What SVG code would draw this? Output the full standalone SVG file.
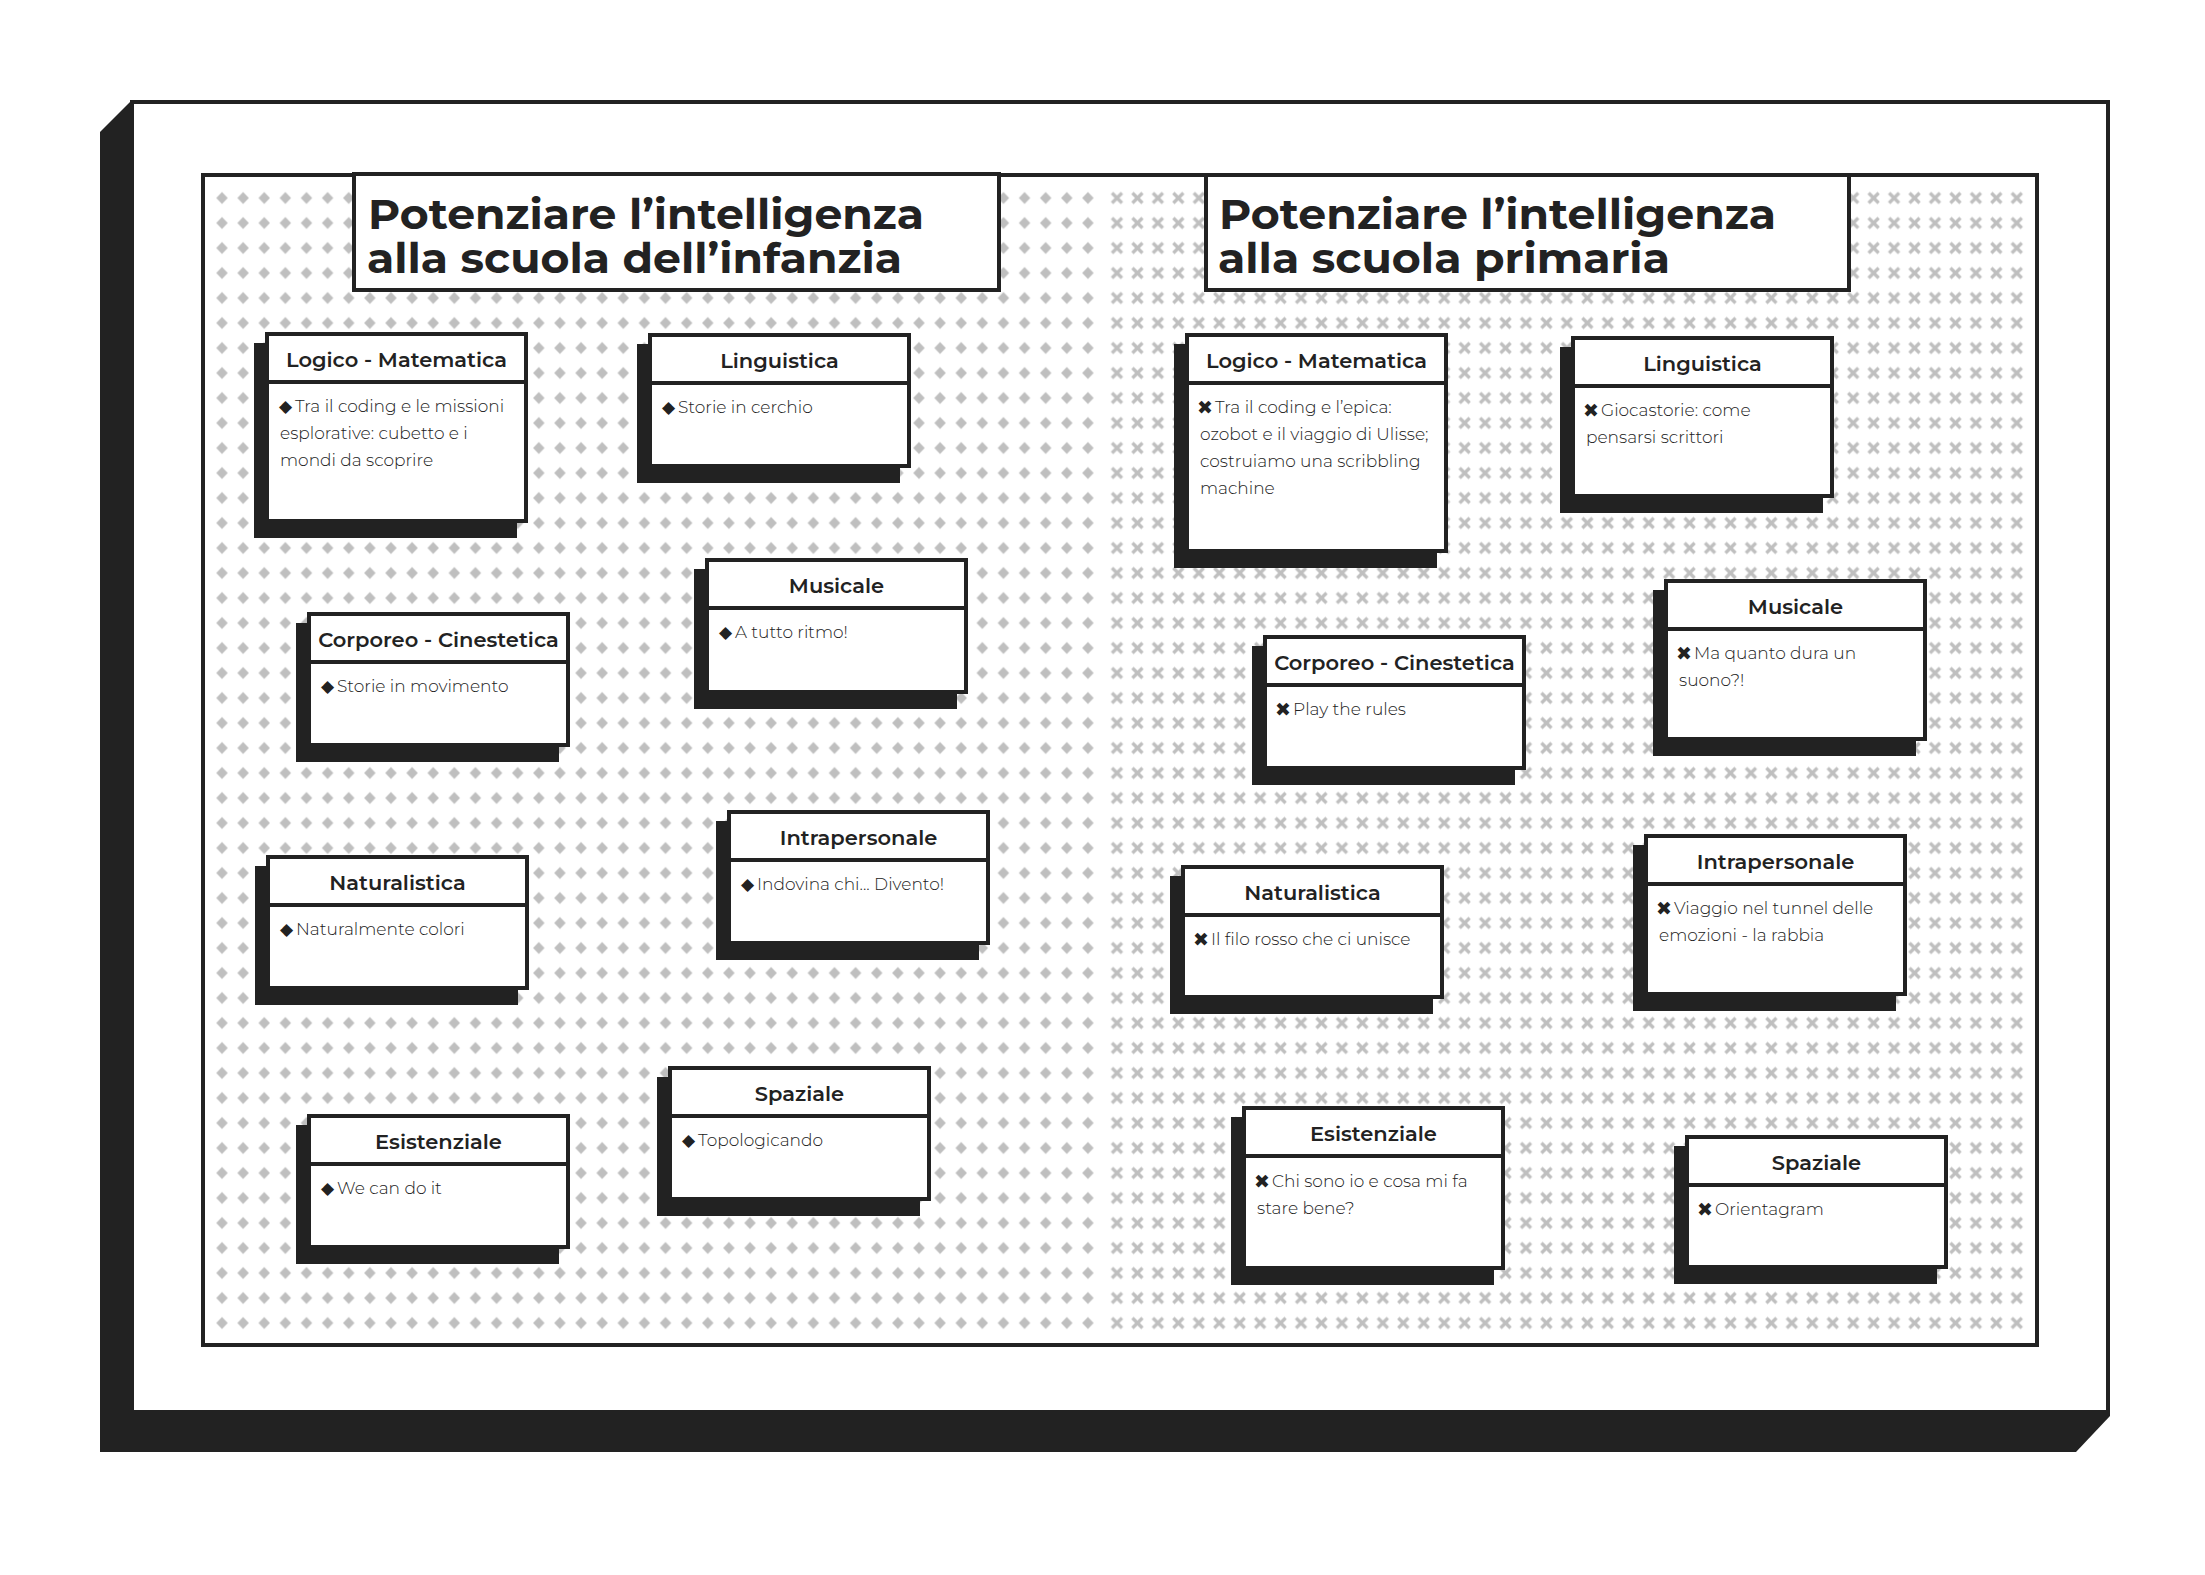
<svg xmlns="http://www.w3.org/2000/svg" width="2205" height="1575" viewBox="0 0 2205 1575">
<style>
.ink{fill:#222}
.frame{fill:#fff;stroke:#222;stroke-width:4}
.shadow{fill:#222}
.box{fill:#fff;stroke:#222;stroke-width:4}
.sep{stroke:#222;stroke-width:4}
.title{font-family:Montserrat,Inter,'Noto Sans',sans-serif;font-weight:700;font-size:42px;fill:#222}
.hdr{font-family:Montserrat,Inter,'Noto Sans',sans-serif;font-weight:600;font-size:21px;fill:#222;text-anchor:middle}
.body{font-family:Montserrat,'Open Sans','Noto Sans',sans-serif;font-weight:300;font-size:17px;fill:#222}
.bul{font-family:'DejaVu Sans',sans-serif;font-size:17px;fill:#222}
.bx{font-family:'DejaVu Sans',sans-serif;font-size:19px;fill:#222}
.dot{fill:#bfbfbf}
.x{stroke:#bfbfbf;stroke-width:3.3;fill:none}
</style>
<defs>
<pattern id="diam" patternUnits="userSpaceOnUse" x="211.44" y="185.5" width="21.12" height="25">
<polygon class="dot" points="10.56,6.5 16.3,12.5 10.56,18.5 4.8,12.5"/>
</pattern>
<pattern id="cross" patternUnits="userSpaceOnUse" x="1106.8" y="185.5" width="20.45" height="25">
<path class="x" d="M5.2,7.5 L15.2,17.5 M15.2,7.5 L5.2,17.5"/>
</pattern>
</defs>

<g id="frame">
<polygon class="ink" points="132,100 100,132 100,1452 2076,1452 2110,1416 2110,100"/>
<rect class="frame" x="132" y="102" width="1976" height="1310"/>
<rect class="frame" x="203" y="175" width="1834" height="1170"/>
<rect x="211.44" y="185.5" width="887.04" height="1150" fill="url(#diam)"/>
<rect x="1106.8" y="185.5" width="920.25" height="1150" fill="url(#cross)"/>
</g>

<g id="title-infanzia">
<rect class="box" x="354" y="174" width="645" height="116"/>
<text class="title" x="368" y="229" textLength="556" lengthAdjust="spacingAndGlyphs">Potenziare l’intelligenza</text>
<text class="title" x="367" y="273" textLength="535" lengthAdjust="spacingAndGlyphs">alla scuola dell’infanzia</text>
</g>
<g id="title-primaria">
<rect class="box" x="1206" y="175" width="643" height="115"/>
<text class="title" x="1219" y="229" textLength="557" lengthAdjust="spacingAndGlyphs">Potenziare l’intelligenza</text>
<text class="title" x="1218" y="273" textLength="452" lengthAdjust="spacingAndGlyphs">alla scuola primaria</text>
</g>

<g id="connectors"></g>

<!-- Scuola dell'infanzia -->
<g id="inf-logico">
<rect class="shadow" x="254" y="343" width="263" height="195"/>
<rect class="box" x="267" y="334" width="259" height="187"/>
<line class="sep" x1="267" y1="382" x2="526" y2="382"/>
<text class="hdr" x="396.5" y="367">Logico - Matematica</text>
<text class="bul" x="279" y="412">◆</text>
<text class="body" x="295" y="412">Tra il coding e le missioni</text>
<text class="body" x="280" y="439">esplorative: cubetto e i</text>
<text class="body" x="280" y="466">mondi da scoprire</text>
</g>
<g id="inf-linguistica">
<rect class="shadow" x="637" y="344" width="263" height="139"/>
<rect class="box" x="650" y="335" width="259" height="131"/>
<line class="sep" x1="650" y1="383" x2="909" y2="383"/>
<text class="hdr" x="779.5" y="368">Linguistica</text>
<text class="bul" x="662" y="413">◆</text>
<text class="body" x="678" y="413">Storie in cerchio</text>
</g>
<g id="inf-musicale">
<rect class="shadow" x="694" y="569" width="263" height="140"/>
<rect class="box" x="707" y="560" width="259" height="132"/>
<line class="sep" x1="707" y1="608" x2="966" y2="608"/>
<text class="hdr" x="836.5" y="593">Musicale</text>
<text class="bul" x="719" y="638">◆</text>
<text class="body" x="735" y="638">A tutto ritmo!</text>
</g>
<g id="inf-corporeo">
<rect class="shadow" x="296" y="623" width="263" height="139"/>
<rect class="box" x="309" y="614" width="259" height="131"/>
<line class="sep" x1="309" y1="662" x2="568" y2="662"/>
<text class="hdr" x="438.5" y="647">Corporeo - Cinestetica</text>
<text class="bul" x="321" y="692">◆</text>
<text class="body" x="337" y="692">Storie in movimento</text>
</g>
<g id="inf-intrapersonale">
<rect class="shadow" x="716" y="821" width="263" height="139"/>
<rect class="box" x="729" y="812" width="259" height="131"/>
<line class="sep" x1="729" y1="860" x2="988" y2="860"/>
<text class="hdr" x="858.5" y="845">Intrapersonale</text>
<text class="bul" x="741" y="890">◆</text>
<text class="body" x="757" y="890">Indovina chi... Divento!</text>
</g>
<g id="inf-naturalistica">
<rect class="shadow" x="255" y="866" width="263" height="139"/>
<rect class="box" x="268" y="857" width="259" height="131"/>
<line class="sep" x1="268" y1="905" x2="527" y2="905"/>
<text class="hdr" x="397.5" y="890">Naturalistica</text>
<text class="bul" x="280" y="935">◆</text>
<text class="body" x="296" y="935">Naturalmente colori</text>
</g>
<g id="inf-spaziale">
<rect class="shadow" x="657" y="1077" width="263" height="139"/>
<rect class="box" x="670" y="1068" width="259" height="131"/>
<line class="sep" x1="670" y1="1116" x2="929" y2="1116"/>
<text class="hdr" x="799.5" y="1101">Spaziale</text>
<text class="bul" x="682" y="1146">◆</text>
<text class="body" x="698" y="1146">Topologicando</text>
</g>
<g id="inf-esistenziale">
<rect class="shadow" x="296" y="1125" width="263" height="139"/>
<rect class="box" x="309" y="1116" width="259" height="131"/>
<line class="sep" x1="309" y1="1164" x2="568" y2="1164"/>
<text class="hdr" x="438.5" y="1149">Esistenziale</text>
<text class="bul" x="321" y="1194">◆</text>
<text class="body" x="337" y="1194">We can do it</text>
</g>

<!-- Scuola primaria -->
<g id="pri-logico">
<rect class="shadow" x="1174" y="344" width="263" height="224"/>
<rect class="box" x="1187" y="335" width="259" height="216"/>
<line class="sep" x1="1187" y1="383" x2="1446" y2="383"/>
<text class="hdr" x="1316.5" y="368">Logico - Matematica</text>
<text class="bx" x="1197" y="414">✖</text>
<text class="body" x="1215" y="413">Tra il coding e l’epica:</text>
<text class="body" x="1200" y="440">ozobot e il viaggio di Ulisse;</text>
<text class="body" x="1200" y="467">costruiamo una scribbling</text>
<text class="body" x="1200" y="494">machine</text>
</g>
<g id="pri-linguistica">
<rect class="shadow" x="1560" y="347" width="263" height="166"/>
<rect class="box" x="1573" y="338" width="259" height="158"/>
<line class="sep" x1="1573" y1="386" x2="1832" y2="386"/>
<text class="hdr" x="1702.5" y="371">Linguistica</text>
<text class="bx" x="1583" y="417">✖</text>
<text class="body" x="1601" y="416">Giocastorie: come</text>
<text class="body" x="1586" y="443">pensarsi scrittori</text>
</g>
<g id="pri-musicale">
<rect class="shadow" x="1653" y="590" width="263" height="166"/>
<rect class="box" x="1666" y="581" width="259" height="158"/>
<line class="sep" x1="1666" y1="629" x2="1925" y2="629"/>
<text class="hdr" x="1795.5" y="614">Musicale</text>
<text class="bx" x="1676" y="660">✖</text>
<text class="body" x="1694" y="659">Ma quanto dura un</text>
<text class="body" x="1679" y="686">suono?!</text>
</g>
<g id="pri-corporeo">
<rect class="shadow" x="1252" y="646" width="263" height="139"/>
<rect class="box" x="1265" y="637" width="259" height="131"/>
<line class="sep" x1="1265" y1="685" x2="1524" y2="685"/>
<text class="hdr" x="1394.5" y="670">Corporeo - Cinestetica</text>
<text class="bx" x="1275" y="716">✖</text>
<text class="body" x="1293" y="715">Play the rules</text>
</g>
<g id="pri-intrapersonale">
<rect class="shadow" x="1633" y="845" width="263" height="166"/>
<rect class="box" x="1646" y="836" width="259" height="158"/>
<line class="sep" x1="1646" y1="884" x2="1905" y2="884"/>
<text class="hdr" x="1775.5" y="869">Intrapersonale</text>
<text class="bx" x="1656" y="915">✖</text>
<text class="body" x="1674" y="914">Viaggio nel tunnel delle</text>
<text class="body" x="1659" y="941">emozioni - la rabbia</text>
</g>
<g id="pri-naturalistica">
<rect class="shadow" x="1170" y="876" width="263" height="138"/>
<rect class="box" x="1183" y="867" width="259" height="130"/>
<line class="sep" x1="1183" y1="915" x2="1442" y2="915"/>
<text class="hdr" x="1312.5" y="900">Naturalistica</text>
<text class="bx" x="1193" y="946">✖</text>
<text class="body" x="1211" y="945">Il filo rosso che ci unisce</text>
</g>
<g id="pri-esistenziale">
<rect class="shadow" x="1231" y="1117" width="263" height="168"/>
<rect class="box" x="1244" y="1108" width="259" height="160"/>
<line class="sep" x1="1244" y1="1156" x2="1503" y2="1156"/>
<text class="hdr" x="1373.5" y="1141">Esistenziale</text>
<text class="bx" x="1254" y="1188">✖</text>
<text class="body" x="1272" y="1187">Chi sono io e cosa mi fa</text>
<text class="body" x="1257" y="1214">stare bene?</text>
</g>
<g id="pri-spaziale">
<rect class="shadow" x="1674" y="1146" width="263" height="138"/>
<rect class="box" x="1687" y="1137" width="259" height="130"/>
<line class="sep" x1="1687" y1="1185" x2="1946" y2="1185"/>
<text class="hdr" x="1816.5" y="1170">Spaziale</text>
<text class="bx" x="1697" y="1216">✖</text>
<text class="body" x="1715" y="1215">Orientagram</text>
</g>
</svg>
